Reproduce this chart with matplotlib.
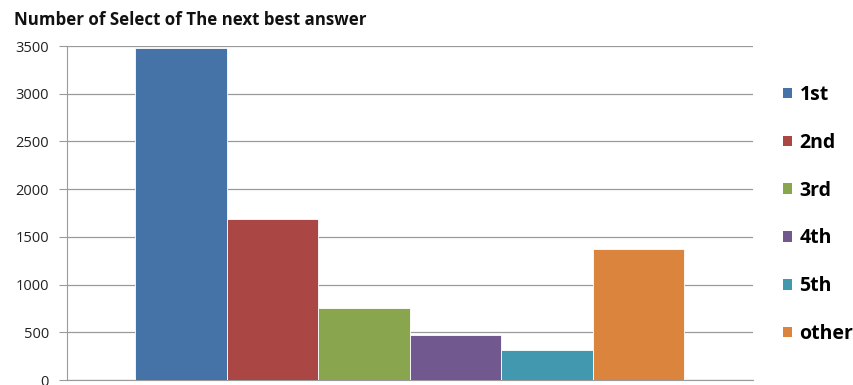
import matplotlib.pyplot as plt
from matplotlib.patches import Patch

plt.rcParams['font.family'] = ['Open Sans', 'DejaVu Sans']

# counts of how often each rank was picked as the next best answer
ranks = ['1st', '2nd', '3rd', '4th', '5th', 'other']
counts = [3480, 1690, 750, 470, 315, 1375]
colors = ['#4572A7', '#AA4643', '#89A54E', '#71588F', '#4198AF', '#DB843D']

fig = plt.figure(figsize=(8.54, 3.85), dpi=100)
ax = fig.add_axes([67 / 854, 1 - 380 / 385, (753 - 67) / 854, (380 - 46) / 385])

x = list(range(len(ranks)))
ax.bar(x, counts, width=1.0, color=colors, edgecolor='white', linewidth=0.6, zorder=3)

ax.set_ylim(0, 3500)
ax.set_yticks(range(0, 3501, 500))
ax.set_xlim(-1.245, 6.25)
ax.set_xticks([])

ax.grid(axis='y', color='#9a9a9a', linewidth=0.9, zorder=0)
for side in ['top', 'right']:
    ax.spines[side].set_visible(False)
ax.spines['left'].set_color('#9a9a9a')
ax.spines['bottom'].set_color('#9a9a9a')
ax.tick_params(axis='y', length=6, color='#9a9a9a', labelsize=10.5, labelcolor='#222222', pad=7)

fig.text(14 / 854, 1 - 20 / 385, 'Number of Select of The next best answer',
         fontsize=12.2, fontweight='bold', va='center', ha='left', color='#111111')

handles = [Patch(facecolor=c, edgecolor='none') for c in colors]
leg = fig.legend(handles, ranks, loc='upper left', bbox_to_anchor=(783 / 854, 1 - 85 / 385),
                 frameon=False, prop={'weight': 'bold', 'size': 14},
                 handlelength=0.45, handleheight=0.45, handletextpad=0.4,
                 labelspacing=1.43, borderpad=0, borderaxespad=0)

fig.savefig('out.png', dpi=100)
